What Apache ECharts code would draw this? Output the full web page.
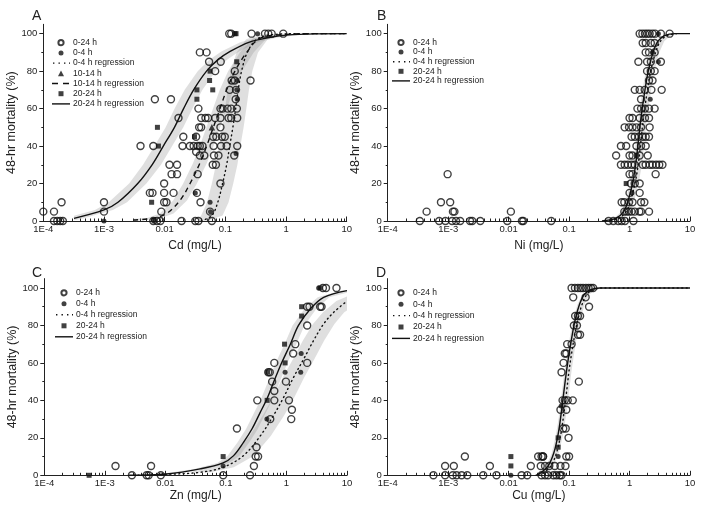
<!DOCTYPE html>
<html><head><meta charset="utf-8">
<script src="https://cdn.jsdelivr.net/npm/echarts@6/dist/echarts.min.js"></script>
<style>html,body{margin:0;padding:0;background:#fff}#c{width:704px;height:518px}</style>
</head><body><div id="c"></div>
<script>
// ---------- tick labels / tick values ----------
const xTickLabels = ['1E-4','1E-3','0.01','0.1','1','10'];
const xMinorTicks = [2e-4,3e-4,4e-4,5e-4,6e-4,7e-4,8e-4,9e-4,
  0.002,0.003,0.004,0.005,0.006,0.007,0.008,0.009,
  0.02,0.03,0.04,0.05,0.06,0.07,0.08,0.09,
  0.2,0.3,0.4,0.5,0.6,0.7,0.8,0.9,
  2,3,4,5,6,7,8,9];
const yTickValues = [0,20,40,60,80,100];
const yMinorTicks = [10,30,50,70,90];
const panelLetters = ['A','B','C','D'];
const xAxisTitles = ['Cd (mg/L)','Ni (mg/L)','Zn (mg/L)','Cu (mg/L)'];
const yAxisTitle = '48-hr mortality (%)';
const legendA = ['0-24 h','0-4 h','0-4 h regression','10-14 h','10-14 h regression','20-24 h','20-24 h regression'];
const legendBCD = ['0-24 h','0-4 h','0-4 h regression','20-24 h','20-24 h regression'];

// ---------- Panel A: Cd ----------
const cdOpen = [[0.0001,5],[0.00015,5],[0.0002,10],[0.00015,0],[0.00017,0],[0.00019,0],[0.00021,0],
[0.001,10],[0.001,5],[0.004,40],[0.0065,40],[0.0069,65],[0.0127,65],
[0.0057,15],[0.0063,15],[0.0088,5],[0.0098,20],[0.0098,15],[0.0098,10],[0.0107,10],[0.0065,0],[0.0075,0],[0.0085,0],
[0.012,30],[0.013,25],[0.016,30],[0.016,25],[0.014,15],[0.0169,55],[0.0197,40],[0.0203,45],[0.019,0],
[0.026,40],[0.03,40],[0.033,45],[0.033,37],[0.034,15],[0.035,40],[0.035,25],[0.036,60],[0.037,50],[0.038,90],[0.038,40],[0.038,35],[0.039,10],[0.04,55],[0.04,50],[0.042,40],[0.045,35],[0.047,55],[0.049,90],[0.052,55],[0.054,85],[0.056,5],[0.032,0],[0.036,0],[0.06,0],
[0.062,30],[0.063,45],[0.064,40],[0.065,35],[0.068,80],[0.068,55],[0.07,30],[0.071,45],[0.077,35],[0.083,60],[0.083,55],[0.083,50],[0.083,20],[0.084,85],[0.085,40],[0.088,45],[0.09,60],[0.098,45],
[0.105,40],[0.109,60],[0.113,55],[0.116,100],[0.118,70],[0.125,100],[0.125,60],[0.125,55],[0.127,75],[0.14,35],[0.143,80],[0.143,75],[0.148,65],[0.15,70],[0.155,60],[0.157,55],[0.157,40],
[0.26,75],[0.27,100],[0.45,100],[0.51,100],[0.58,100],[0.9,100]];
const cdFilled = [[0.001,0],[0.0066,0],[0.032,15],[0.056,10],[0.057,5],[0.15,36],[0.154,70],[0.157,65],[0.157,75],[0.34,100]];
const cdTriangle = [[0.06,50]];
const cdSquare = [[0.0061,10],[0.0076,50],[0.0079,40],[0.031,45],[0.034,65],[0.034,70],[0.055,75],[0.056,80],[0.062,70],[0.143,100],[0.15,100],[0.154,85]];
const cdReg2024 = [[3.2e-4,1.4],[0.001,5.9],[0.0017,10],[0.0036,20],[0.0062,30],[0.0095,40],[0.0145,50],[0.0205,60],[0.03,70],[0.049,80],[0.075,86],[0.12,90.5],[0.25,95.5],[0.5,97.8],[1,99.2],[3,99.9],[10,100]];
const cdReg1014 = [[0.00305,0.5],[0.0065,1.5],[0.0108,4],[0.0179,11],[0.0262,20],[0.0382,31],[0.0492,40],[0.0634,50],[0.0817,60],[0.105,70],[0.144,80],[0.225,90],[0.372,97.5],[1.03,99.6],[3,100],[10,100]];
const cdReg04 = [[0.04,0],[0.06,3],[0.075,10],[0.09,20],[0.105,30],[0.118,40],[0.133,50],[0.148,60],[0.163,70],[0.185,80],[0.23,90],[0.33,97],[0.6,99.5],[2,100],[10,100]];
const cdBand2024Left = [[3.2e-4,2.8],[7.1e-4,5.9],[0.0012,10],[0.0026,20],[0.0044,30],[0.0068,40],[0.0104,50],[0.0146,60],[0.0214,70],[0.035,80],[0.054,86],[0.086,90.5],[0.18,95.5],[0.36,97.8],[0.71,99.2],[1.5,99.8]];
const cdBand2024Right = [[3.2e-4,0.4],[4.5e-4,1.4],[0.0014,5.9],[0.0024,10],[0.005,20],[0.0087,30],[0.0133,40],[0.0203,50],[0.0287,60],[0.042,70],[0.069,80],[0.105,86],[0.168,90.5],[0.35,95.5],[0.7,97.8],[1.5,99.1]];
const cdBand1014Left = [[0.003,1.2],[0.005,1.5],[0.0083,4],[0.0138,11],[0.0202,20],[0.0294,31],[0.0378,40],[0.0488,50],[0.0628,60],[0.081,70],[0.111,80],[0.173,90],[0.286,97.5],[0.8,99.6]];
const cdBand1014Right = [[0.003,0],[0.0085,1.5],[0.014,4],[0.0233,11],[0.034,20],[0.0497,31],[0.064,40],[0.0824,50],[0.106,60],[0.137,70],[0.187,80],[0.293,90],[0.48,97.5],[1.3,99.6]];
const cdBand04Left = [[0.035,0.5],[0.04,3],[0.05,10],[0.06,20],[0.07,30],[0.079,40],[0.089,50],[0.099,60],[0.109,70],[0.123,80],[0.153,90],[0.22,97],[0.4,99.5]];
const cdBand04Right = [[0.05,0],[0.09,3],[0.113,10],[0.135,20],[0.158,30],[0.177,40],[0.2,50],[0.222,60],[0.245,70],[0.278,80],[0.345,90],[0.5,97],[0.9,99.5]];

// ---------- Panel B: Ni ----------
const niOpen = [[3.4e-4,0],[4.4e-4,5],[7.1e-4,0],[7.6e-4,10],[9e-4,0],[9.8e-4,25],[0.00108,10],[0.00116,0],[0.0012,5],[0.00127,5],[0.00135,0],[0.00158,0],[0.0023,0],[0.0025,0],[0.0034,0],[0.0095,0],[0.0109,5],[0.0166,0],[0.0175,0],[0.0506,0],
[1.47,100],[1.63,100],[1.8,100],[1.97,100],[2.15,100],[2.4,100],[2.65,100],[3.3,100],[4.6,100],
[1.65,95],[1.85,95],[2.25,95],[2.6,95],[1.85,90],[2.1,90],[2.6,90],[1.4,85],[1.95,85],[2.25,85],[3.3,85],
[1.95,80],[2.25,80],[2.6,80],[2.1,75],[2.4,75],[1.22,70],[1.47,70],[1.78,70],[2.3,70],[3.4,70],[1.55,65],
[1.35,60],[1.55,60],[1.8,60],[2.1,60],[2.6,60],[1.0,55],[1.12,55],[1.47,55],[1.8,55],[2.1,55],
[0.83,50],[0.98,50],[1.12,50],[1.3,50],[1.55,50],[2.15,50],[1.08,45],[1.22,45],[1.42,45],[1.65,45],[1.85,45],[2.1,45],
[0.72,40],[0.88,40],[1.3,40],[1.55,40],[1.85,40],[0.6,35],[1.0,35],[1.12,35],[1.47,35],[2.0,35],
[0.72,30],[0.83,30],[0.94,30],[1.08,30],[1.22,30],[1.65,30],[1.85,30],[2.15,30],[2.4,30],[2.75,30],[3.1,30],[3.5,30],
[1.0,25],[1.12,25],[2.7,25],[1.05,20],[1.22,20],[1.47,20],[1.0,15],[1.47,15],
[0.74,10],[0.82,10],[0.98,10],[1.12,10],[1.55,10],[1.76,10],[0.82,5],[0.9,5],[0.98,5],[1.08,5],[1.22,5],[1.45,5],[1.55,5],[2.1,5],
[0.45,0],[0.54,0],[0.65,0],[0.74,0],[0.84,0],[1.16,0]];
const niFilled = [[3.0,100],[2.4,90],[3.0,85],[2.2,65],[1.1,15]];
const niSquare = [[0.88,20],[1.3,35]];
const niReg2024 = [[0.35,0],[0.6,1.5],[0.8,5],[0.93,10],[1.12,20],[1.26,30],[1.37,40],[1.48,50],[1.62,60],[1.8,70],[2.04,80],[2.45,90],[2.95,96],[3.8,99],[5.6,100],[10,100]];
const niReg04 = [[0.4,0],[0.66,1.5],[0.88,5],[1.02,10],[1.23,20],[1.39,30],[1.51,40],[1.63,50],[1.78,60],[1.98,70],[2.24,80],[2.7,90],[3.25,96],[4.2,99],[6,100]];
const niBandLeft = [[0.35,0.5],[0.55,1.5],[0.73,5],[0.85,10],[1.02,20],[1.15,30],[1.25,40],[1.35,50],[1.47,60],[1.64,70],[1.85,80],[2.23,90],[2.7,96],[3.5,99],[5,100]];
const niBandRight = [[0.4,0],[0.76,1.5],[1.0,5],[1.17,10],[1.41,20],[1.6,30],[1.74,40],[1.87,50],[2.05,60],[2.28,70],[2.58,80],[3.1,90],[3.75,96],[4.8,99],[6.5,100]];

// ---------- Panel C: Zn ----------
const znOpen = [[0.0015,5],[0.0028,0],[0.0049,0],[0.0053,0],[0.0058,5],[0.0084,0],[0.09,0],[0.152,25],[0.25,0],[0.29,5],[0.31,10],[0.34,10],[0.32,15],[0.33,40],[0.54,30],[0.5,55],[0.53,55],[0.58,50],[0.63,45],[0.63,40],[0.63,60],[0.98,50],[1.1,40],[1.2,30],[1.23,35],[1.29,65],[1.4,70],[2.2,60],[2.2,80],[2.2,90],[2.4,90],[3.6,90],[3.8,90],[4.0,100],[4.5,100],[6.7,100]];
const znFilled = [[0.09,5],[0.475,30],[0.95,55],[1.72,55],[1.75,65],[3.4,100]];
const znSquare = [[5.5e-4,0],[0.09,10],[0.48,40],[0.49,55],[0.95,60],[0.93,70],[1.78,85],[1.78,90],[3.6,100]];
const znReg2024 = [[0.0025,0],[0.0105,0.7],[0.0375,3.4],[0.09,6.6],[0.134,10.5],[0.195,17.6],[0.269,24.7],[0.369,33.6],[0.475,40.7],[0.612,49.6],[0.84,60.3],[1.16,70],[1.58,80],[2.48,88.8],[4.11,95],[10,98.6]];
const znReg04 = [[0.003,0],[0.01,0.5],[0.0375,1.6],[0.09,4.3],[0.195,10.5],[0.369,21],[0.612,32],[0.897,41.6],[1.31,52.3],[1.92,62],[2.81,72],[4.11,80.8],[6.03,87],[10,93]];
const znBand2024Left = [[0.0084,0.7],[0.03,3.4],[0.072,6.6],[0.107,10.5],[0.156,17.6],[0.215,24.7],[0.295,33.6],[0.38,40.7],[0.49,49.6],[0.672,60.3],[0.928,70],[1.26,80],[1.98,88.8],[3.29,95],[8,98.6],[10,98.8]];
const znBand2024Right = [[0.013,0.7],[0.047,3.4],[0.113,6.6],[0.168,10.5],[0.244,17.6],[0.336,24.7],[0.46,33.6],[0.594,40.7],[0.765,49.6],[1.05,60.3],[1.45,70],[1.98,80],[3.1,88.8],[5.1,95],[10,97.5]];
const znBand04Left = [[0.025,1.6],[0.06,4.3],[0.13,10.5],[0.246,21],[0.408,32],[0.598,41.6],[0.873,52.3],[1.28,62],[1.87,72],[2.74,80.8],[4.02,87],[6.67,93],[10,95.5]];
const znBand04Right = [[0.056,1.6],[0.135,4.3],[0.29,10.5],[0.55,21],[0.92,32],[1.35,41.6],[1.97,52.3],[2.88,62],[4.2,72],[6.2,80.8],[9,87],[10,88]];

// ---------- Panel D: Cu ----------
const cuOpen = [[5.7e-4,0],[8.9e-4,0],[8.9e-4,5],[0.00119,0],[0.00124,5],[0.00138,0],[0.00167,0],[0.00189,10],[0.00207,0],[0.0038,0],[0.0049,5],[0.0063,0],[0.0164,0],[0.0203,0],[0.0233,5],[0.0308,10],[0.0372,10],[0.034,5],[0.04,5],[0.047,5],
[0.11,100],[0.125,100],[0.14,100],[0.155,100],[0.17,100],[0.19,100],[0.21,100],[0.23,100],[0.25,100],
[0.117,95],[0.188,95],[0.214,90],[0.126,85],[0.14,85],[0.152,85],[0.12,80],[0.135,80],[0.14,75],[0.152,75],
[0.093,70],[0.11,70],[0.085,65],[0.09,65],[0.081,60],[0.075,55],[0.145,50],
[0.078,40],[0.085,40],[0.095,40],[0.115,40],[0.072,35],[0.09,35],[0.08,25],[0.088,25],[0.098,20],
[0.035,10],[0.037,10],[0.09,10],[0.1,10],[0.058,5],[0.072,5],[0.087,5],
[0.035,0],[0.04,0],[0.045,0],[0.055,0],[0.062,0],[0.07,0],[0.075,0]];
const cuFilled = [[0.0109,0],[0.066,10],[0.074,37]];
const cuSquare = [[0.0109,10],[0.0109,5],[0.066,20],[0.066,15]];
const cuReg2024 = [[0.028,0],[0.033,1],[0.045,5],[0.056,12],[0.066,22],[0.074,33],[0.083,46],[0.091,56],[0.1,65],[0.11,73],[0.126,83],[0.148,91],[0.178,96.5],[0.224,99],[0.32,100],[10,100]];
const cuReg04 = [[0.032,0],[0.037,1],[0.05,5],[0.062,12],[0.073,22],[0.082,33],[0.092,46],[0.1,56],[0.11,65],[0.121,73],[0.139,83],[0.163,91],[0.196,96.5],[0.25,99],[0.36,100],[10,100]];
const cuBandLeft = [[0.028,0.5],[0.031,1],[0.042,5],[0.052,12],[0.061,22],[0.069,33],[0.077,46],[0.084,56],[0.093,65],[0.102,73],[0.117,83],[0.137,91],[0.165,96.5],[0.207,99],[0.3,100]];
const cuBandRight = [[0.033,0],[0.041,1],[0.055,5],[0.068,12],[0.08,22],[0.09,33],[0.101,46],[0.11,56],[0.121,65],[0.133,73],[0.153,83],[0.179,91],[0.216,96.5],[0.275,99],[0.4,100]];

// ---------- build ----------
const FONT = 'Liberation Sans, Arial, sans-serif';
const TXT = '#222';
const bandColor = 'rgba(150,150,150,0.3)';
const grids = [
  {left:43.3, top:24.3, width:303.4, height:196.7},
  {left:387.7, top:24.3, width:302.3, height:196.7},
  {left:44.3, top:278.6, width:302.7, height:196.7},
  {left:387.7, top:278.6, width:302.3, height:196.7}
];
const xNameGap = [19, 19, 8, 8];

function xAxisMain(i){
  return {type:'log', logBase:10, gridIndex:i, min:1e-4, max:10, splitNumber:5, position:'bottom',
    name:xAxisTitles[i], nameLocation:'middle', nameGap:xNameGap[i],
    nameTextStyle:{fontFamily:FONT, fontSize:12, color:TXT},
    axisLine:{show:true, onZero:false, lineStyle:{color:'#222', width:1}},
    axisTick:{show:true, inside:true, length:4.5, lineStyle:{color:'#222'}},
    minorTick:{show:false}, splitLine:{show:false}, minorSplitLine:{show:false},
    axisLabel:{fontFamily:FONT, fontSize:9.5, color:TXT, margin:3,
      formatter:(v)=> xTickLabels[Math.round(Math.log10(v))+4]}};
}
function xAxisMinor(i){
  return {type:'log', logBase:10, gridIndex:i, min:1e-4, max:10, position:'bottom', offset:0,
    axisLine:{show:false}, axisLabel:{show:false}, splitLine:{show:false},
    axisTick:{show:true, inside:true, length:2.5, customValues:xMinorTicks, lineStyle:{color:'#222'}}};
}
function yAxisMain(i){
  return {type:'value', gridIndex:i, min:0, max:105, position:'left',
    name:yAxisTitle, nameLocation:'middle', nameGap:22, nameRotate:90,
    nameTextStyle:{fontFamily:FONT, fontSize:12.5, color:TXT},
    axisLine:{show:true, onZero:false, lineStyle:{color:'#222', width:1}},
    axisTick:{show:true, length:4, customValues:yTickValues, lineStyle:{color:'#222'}},
    axisLabel:{fontFamily:FONT, fontSize:9.5, color:TXT, margin:6, customValues:yTickValues},
    splitLine:{show:false}};
}
function yAxisMinor(i){
  return {type:'value', gridIndex:i, min:0, max:105, position:'left', offset:0,
    axisLine:{show:false}, axisLabel:{show:false}, splitLine:{show:false},
    axisTick:{show:true, length:2, customValues:yMinorTicks, lineStyle:{color:'#222'}}};
}
function band(i, left, right){
  const poly = left.concat(right.slice().reverse());
  return {type:'custom', name:'band', xAxisIndex:i, yAxisIndex:i, data:poly, encode:{x:0,y:1},
    silent:true, clip:true, z:1,
    renderItem:(params, api)=>{
      if (params.dataIndex !== 0) return;
      return {type:'polygon', shape:{points: poly.map(p=>api.coord(p))}, style:{fill:bandColor, stroke:null}};
    }};
}
const DOT = [1, 3.5], DASH = [5, 4];
function line(i, name, data, dash){
  return {type:'line', name, xAxisIndex:i, yAxisIndex:i, data, smooth:0.35, symbol:'none', showSymbol:false,
    z:3, clip:true, lineStyle:{color:'#111', width:1.4, type: dash || 'solid', cap: dash===DOT?'round':'butt'},
    itemStyle:{color:'#111'}};
}
function scatter(i, name, data, kind){
  const s = {type:'scatter', name, xAxisIndex:i, yAxisIndex:i, data, clip:false, z:4};
  if (kind==='open'){ s.symbol='circle'; s.symbolSize=7; s.itemStyle={color:'rgba(255,255,255,0)', borderColor:'#111', borderWidth:1.4}; }
  if (kind==='filled'){ s.symbol='circle'; s.symbolSize=5; s.itemStyle={color:'#111'}; }
  if (kind==='square'){ s.symbol='rect'; s.symbolSize=5; s.itemStyle={color:'#111'}; }
  if (kind==='triangle'){ s.symbol='triangle'; s.symbolSize=6.5; s.itemStyle={color:'#111'}; }
  return s;
}
const series = [
  band(0, cdBand2024Left, cdBand2024Right), band(0, cdBand1014Left, cdBand1014Right), band(0, cdBand04Left, cdBand04Right),
  line(0,'20-24 h regression',cdReg2024), line(0,'10-14 h regression',cdReg1014,DASH), line(0,'0-4 h regression',cdReg04,DOT),
  scatter(0,'0-24 h',cdOpen,'open'), scatter(0,'0-4 h',cdFilled,'filled'), scatter(0,'10-14 h',cdTriangle,'triangle'), scatter(0,'20-24 h',cdSquare,'square'),

  band(1, niBandLeft, niBandRight),
  line(1,'20-24 h regression',niReg2024), line(1,'0-4 h regression',niReg04,DOT),
  scatter(1,'0-24 h',niOpen,'open'), scatter(1,'0-4 h',niFilled,'filled'), scatter(1,'20-24 h',niSquare,'square'),

  band(2, znBand2024Left, znBand2024Right), band(2, znBand04Left, znBand04Right),
  line(2,'20-24 h regression',znReg2024), line(2,'0-4 h regression',znReg04,DOT),
  scatter(2,'0-24 h',znOpen,'open'), scatter(2,'0-4 h',znFilled,'filled'), scatter(2,'20-24 h',znSquare,'square'),

  band(3, cuBandLeft, cuBandRight),
  line(3,'20-24 h regression',cuReg2024), line(3,'0-4 h regression',cuReg04,DOT),
  scatter(3,'0-24 h',cuOpen,'open'), scatter(3,'0-4 h',cuFilled,'filled'), scatter(3,'20-24 h',cuSquare,'square')
];

// legend icons (path icons keep their aspect inside the 18x7 item box)
const legendIcons = {
  '0-24 h': 'path://M0,0M7,7M3.5,0.9a2.6,2.6 0 1 0 0.001,0z',
  '0-4 h': 'path://M0,0M7,7M1,3.5a2.5,2.5 0 1 0 5,0a2.5,2.5 0 1 0 -5,0z',
  '10-14 h': 'path://M0,0M7,7M0.5,6.5L3.5,0.6L6.5,6.5z',
  '20-24 h': 'path://M0,0M7,7M1,1h5v5h-5z',
  '20-24 h regression': 'path://M0,0h18v1.4h-18z',
  '10-14 h regression': 'path://M0,0h6v1.4h-6z M11,0h6v1.4h-6z M18,0',
  '0-4 h regression': 'path://M1,0h1.4v1.4h-1.4z M6.5,0h1.4v1.4h-1.4z M12,0h1.4v1.4h-1.4z M17,0h1v1.4h-1z M0,0'
};
function legend(names, left, top, lh, gap){
  return {orient:'vertical', left, top, itemWidth:18, itemHeight:7, itemGap:gap, selectedMode:false,
    symbolKeepAspect:true, padding:0,
    data:names.map(n=>({name:n, icon:legendIcons[n]})),
    textStyle:{fontFamily:FONT, fontSize:8.5, color:TXT, lineHeight:lh, padding:[0,0,0,-2]}};
}
const chart = echarts.init(document.getElementById('c'), null, {renderer:'canvas'});
chart.setOption({
  animation:false, backgroundColor:'#fff',
  title:[
    {text:panelLetters[0], left:27, top:4, textStyle:{fontFamily:FONT, fontSize:14, fontWeight:'normal', color:TXT}},
    {text:panelLetters[1], left:372, top:4, textStyle:{fontFamily:FONT, fontSize:14, fontWeight:'normal', color:TXT}},
    {text:panelLetters[2], left:27, top:261, textStyle:{fontFamily:FONT, fontSize:14, fontWeight:'normal', color:TXT}},
    {text:panelLetters[3], left:371, top:261, textStyle:{fontFamily:FONT, fontSize:14, fontWeight:'normal', color:TXT}}
  ],
  grid: grids,
  xAxis: [0,1,2,3].map(xAxisMain).concat([0,1,2,3].map(xAxisMinor)),
  yAxis: [0,1,2,3].map(yAxisMain).concat([0,1,2,3].map(yAxisMinor)),
  legend:[
    legend(legendA, 52, 37.7, 10, 0.2),
    legend(legendBCD, 392, 37.7, 9.6, 0),
    legend(legendBCD, 55, 287.8, 10, 1),
    legend(legendBCD, 392, 287.8, 10, 1.4)
  ],
  series
});
</script></body></html>
